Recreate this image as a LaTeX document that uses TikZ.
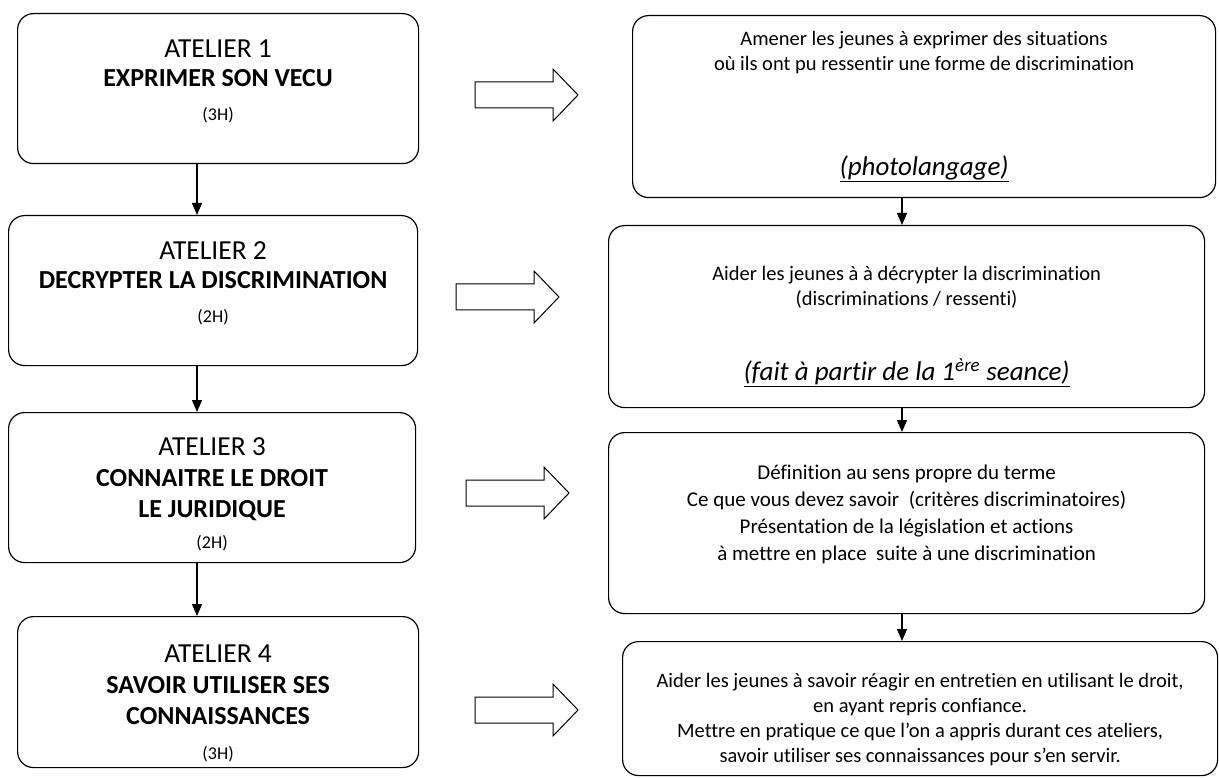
\documentclass[tikz,border=0pt]{standalone}
\usepackage{fontspec}
\setmainfont{Carlito}[Ligatures=NoCommon]
\usetikzlibrary{arrows.meta}
\usetikzlibrary{positioning}

\newcommand{\atl}[1]{{\fontsize{27.5}{31}\selectfont #1}}
\newcommand{\hrs}[1]{{\fontsize{18}{22}\selectfont #1}}
\newcommand{\note}[1]{{\fontsize{27}{32}\selectfont\underline{\textit{#1}}}}

\begin{document}
\begin{tikzpicture}[x=1pt, y=-1pt,
    box/.style={draw, line width=1.2pt, rounded corners=16pt, anchor=north west, align=center, inner sep=0pt},
    atelier/.style={box, font=\fontsize{26}{31}\selectfont},
    goal/.style={box, font=\fontsize{20.5}{25}\selectfont},
    flow/.style={line width=1.3pt, -{Triangle[length=12pt, width=10pt]}},
    fat/.style={draw, line width=1pt, fill=white}]
  \useasboundingbox (0,0) rectangle (1219,778);

  % ateliers (left column)
  \node[atelier, minimum width=401pt, minimum height=150pt] (at1) at (17,13) {\atl{ATELIER 1}\\[-2pt] \textbf{EXPRIMER SON VECU}\\[3pt] \hrs{(3H)}\\[-14pt]\mbox{}};
  \node[atelier, minimum width=409pt, minimum height=150pt] (at2) at (8,215) {\atl{ATELIER 2}\\[-2pt] \textbf{DECRYPTER LA DISCRIMINATION}\\[3pt] \hrs{(2H)}\\[-14pt]\mbox{}};
  \node[atelier, minimum width=407pt, minimum height=150pt] (at3) at (8,412) {\rule{0pt}{31pt}\atl{ATELIER 3}\\ \textbf{CONNAITRE LE DROIT}\\ \textbf{LE JURIDIQUE}\\ \hrs{(2H)}};
  \node[atelier, minimum width=401pt, minimum height=151pt] (at4) at (17,616) {\rule{0pt}{41pt}\atl{ATELIER 4}\\ \textbf{SAVOIR UTILISER SES}\\ \textbf{CONNAISSANCES}\\[4pt] \hrs{(3H)}};

  % objectifs (right column)
  \node[goal, minimum width=583pt, minimum height=182pt] (ob1) at (632,15) {Amener les jeunes à exprimer des situations\\ où ils ont pu ressentir une forme de discrimination\\[80pt] \note{(photolangage)}};
  \node[goal, minimum width=596pt, minimum height=182pt] (ob2) at (608,225) {\rule{0pt}{35pt}Aider les jeunes à à décrypter la discrimination\\ (discriminations / ressenti)\\[50pt] \note{(fait à partir de la 1\textsuperscript{ère} seance)}};
  \node[goal, minimum width=596pt, minimum height=181pt, font=\fontsize{21}{27}\selectfont] (ob3) at (608,432) {Définition au sens propre du terme\\ Ce que vous devez savoir\ \ (critères discriminatoires)\\ Présentation de la législation et actions\\ à mettre en place\ \ suite à une discrimination\\[-6pt]\mbox{}};
  \node[goal, minimum width=595pt, minimum height=134pt] (ob4) at (622,641) {\rule{0pt}{36pt}Aider les jeunes à savoir réagir en entretien en utilisant le droit,\\ en ayant repris confiance.\\ Mettre en pratique ce que l’on a appris durant ces ateliers,\\ savoir utiliser ses connaissances pour s’en servir.};

  % liaisons
  \coordinate (lx) at (197,0);
  \coordinate (rx) at (902,0);
  \draw[flow] (lx |- at1.south) -- (lx |- at2.north);
  \draw[flow] (lx |- at2.south) -- (lx |- at3.north);
  \draw[flow] (lx |- at3.south) -- (lx |- at4.north);
  \draw[flow] (rx |- ob1.south) -- (rx |- ob2.north);
  \draw[flow] (rx |- ob2.south) -- (rx |- ob3.north);
  \draw[flow] (rx |- ob3.south) -- (rx |- ob4.north);

  % grosses fleches
  \foreach \x/\y in {475/95, 456/297, 466/493, 475/710}
    \draw[fat] (\x,\y-13) -- ++(78,0) -- ++(0,-13) -- ++(25,26) -- ++(-25,26) -- ++(0,-13) -- ++(-78,0) -- cycle;
\end{tikzpicture}
\end{document}
